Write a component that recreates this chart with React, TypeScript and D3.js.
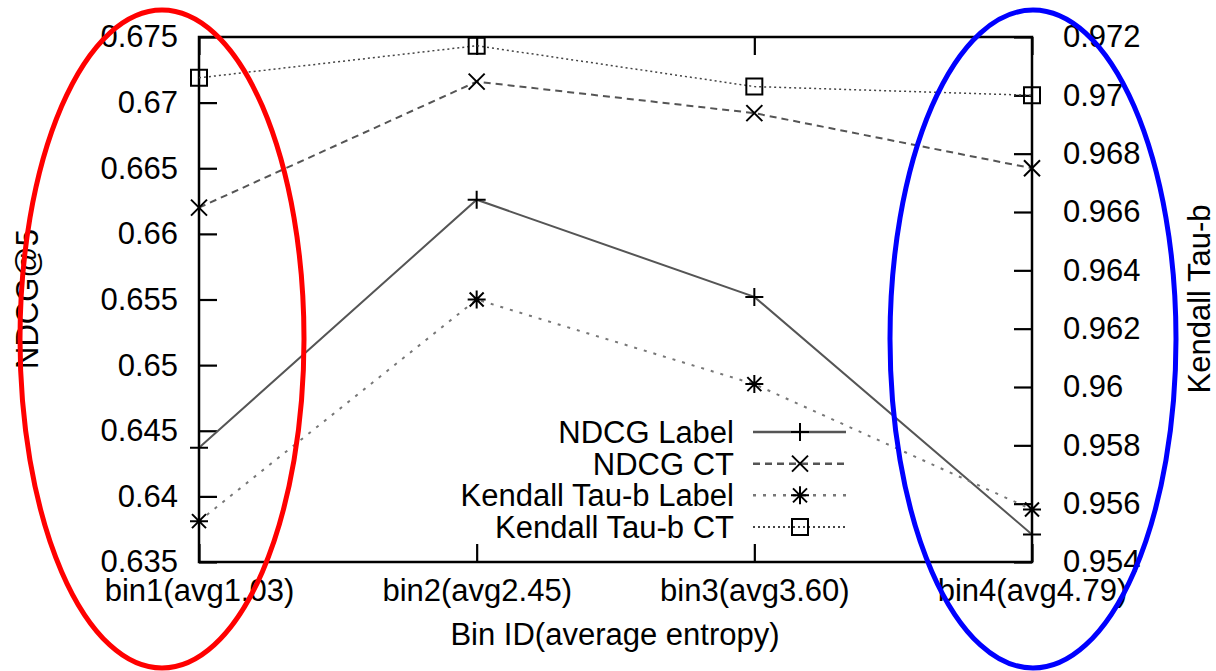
import React, { useRef, useEffect } from "react";
import * as d3 from "d3";

// bins along the x axis
const bins = ["bin1(avg1.03)", "bin2(avg2.45)", "bin3(avg3.60)", "bin4(avg4.79)"];

// NDCG series, left axis
const ndcgLabel = [0.6437, 0.6626, 0.6552, 0.6371];
const ndcgCT = [0.662, 0.6716, 0.6692, 0.665];

// Kendall series, right axis
const kendallLabel = [0.9554, 0.963, 0.9601, 0.9558];
const kendallCT = [0.9706, 0.9717, 0.9703, 0.97];

const leftTicks = [0.635, 0.64, 0.645, 0.65, 0.655, 0.66, 0.665, 0.67, 0.675];
const rightTicks = [0.954, 0.956, 0.958, 0.96, 0.962, 0.964, 0.966, 0.968, 0.97, 0.972];

const seriesNames = ["NDCG Label", "NDCG CT", "Kendall Tau-b Label", "Kendall Tau-b CT"];

const W = 1216;
const H = 671;
const FONT = "'Liberation Sans', Arial, Helvetica, sans-serif";

// marker shapes, gnuplot style
const markerPath = (kind: string) => {
  if (kind === "plus") return "M-9,0H9M0,-9V9";
  if (kind === "cross") return "M-8,-8L8,8M-8,8L8,-8";
  if (kind === "star") return "M-9,0H9M0,-9V9M-7,-7L7,7M-7,7L7,-7";
  return "M-8,-8H8V8H-8Z";
};

const App = () => {
  const svgRef = useRef<SVGSVGElement>(null);

  useEffect(() => {
    const svg = d3.select(svgRef.current);
    svg.selectAll("*").remove();

    const left = 199, right = 1032, top = 37, bottom = 562;

    const x = d3.scalePoint<string>().domain(bins).range([left, right]).padding(0);
    const yL = d3.scaleLinear().domain([0.635, 0.675]).range([bottom, top]);
    const yR = d3.scaleLinear().domain([0.954, 0.972]).range([bottom, top]);
    const fmt = d3.format("~g");

    const styleAxis = (g: any) => {
      g.select(".domain").remove();
      g.selectAll(".tick line").attr("stroke", "#000").attr("stroke-width", 2.2);
      g.selectAll(".tick text")
        .attr("fill", "#000")
        .style("font-family", FONT)
        .style("font-size", "31px");
    };

    // axes, ticks pointing inward
    svg.append("g")
      .attr("transform", `translate(${left},0)`)
      .call(d3.axisLeft(yL).tickValues(leftTicks).tickSize(-18).tickPadding(21).tickFormat(fmt as any))
      .call(styleAxis);

    svg.append("g")
      .attr("transform", `translate(${right},0)`)
      .call(d3.axisRight(yR).tickValues(rightTicks).tickSize(-18).tickPadding(31).tickFormat(fmt as any))
      .call(styleAxis);

    svg.append("g")
      .attr("transform", `translate(0,${bottom})`)
      .call(d3.axisBottom(x).tickSize(-18).tickPadding(17))
      .call(styleAxis);

    svg.append("g")
      .attr("transform", `translate(0,${top})`)
      .call(d3.axisTop(x).tickSize(-18).tickFormat(() => ""))
      .call(styleAxis);

    // frame
    svg.append("rect")
      .attr("x", left).attr("y", top)
      .attr("width", right - left).attr("height", bottom - top)
      .attr("fill", "none").attr("stroke", "#000").attr("stroke-width", 2.5);

    const series = [
      { name: seriesNames[0], values: ndcgLabel, y: yL, color: "#555", dash: null, marker: "plus", width: 2 },
      { name: seriesNames[1], values: ndcgCT, y: yL, color: "#555", dash: "7,5", marker: "cross", width: 2 },
      { name: seriesNames[2], values: kendallLabel, y: yR, color: "#777", dash: "3,7", marker: "star", width: 2 },
      { name: seriesNames[3], values: kendallCT, y: yR, color: "#444", dash: "2,3", marker: "square", width: 1.5 },
    ];

    series.forEach((s) => {
      const ln = d3.line<number>()
        .x((d, i) => x(bins[i]) as number)
        .y((d) => s.y(d));

      svg.append("path")
        .datum(s.values)
        .attr("d", ln)
        .attr("fill", "none")
        .attr("stroke", s.color)
        .attr("stroke-width", s.width)
        .attr("stroke-dasharray", s.dash);

      svg.selectAll(null)
        .data(s.values)
        .join("path")
        .attr("transform", (d, i) => `translate(${x(bins[i])},${s.y(d)})`)
        .attr("d", markerPath(s.marker))
        .attr("fill", "none")
        .attr("stroke", "#000")
        .attr("stroke-width", 2);
    });

    // legend
    const legend = svg.append("g");
    const rowY = d3.scaleLinear().domain([0, 3]).range([432, 527]);
    series.forEach((s, i) => {
      const yy = rowY(i);
      legend.append("text")
        .attr("x", 734).attr("y", yy).attr("dy", "0.36em")
        .attr("text-anchor", "end")
        .style("font-family", FONT).style("font-size", "31px")
        .text(s.name);
      legend.append("line")
        .attr("x1", 753).attr("x2", 846).attr("y1", yy).attr("y2", yy)
        .attr("stroke", s.color).attr("stroke-width", s.width + 0.5)
        .attr("stroke-dasharray", s.dash);
      legend.append("path")
        .attr("transform", `translate(800,${yy})`)
        .attr("d", markerPath(s.marker))
        .attr("fill", "none").attr("stroke", "#000").attr("stroke-width", 2);
    });

    // axis titles
    svg.append("text")
      .attr("transform", "translate(27,299) rotate(-90)")
      .attr("text-anchor", "middle").attr("dy", "0.35em")
      .style("font-family", FONT).style("font-size", "31px")
      .text("NDCG@5");

    svg.append("text")
      .attr("transform", "translate(1199,299) rotate(-90)")
      .attr("text-anchor", "middle").attr("dy", "0.35em")
      .style("font-family", FONT).style("font-size", "31px")
      .text("Kendall Tau-b");

    svg.append("text")
      .attr("x", 615).attr("y", 645)
      .attr("text-anchor", "middle")
      .style("font-family", FONT).style("font-size", "31px")
      .text("Bin ID(average entropy)");

    // highlight ellipses drawn over the chart
    svg.append("ellipse")
      .attr("cx", 162).attr("cy", 339).attr("rx", 142).attr("ry", 329)
      .attr("fill", "none").attr("stroke", "#ff0000").attr("stroke-width", 5);
    svg.append("ellipse")
      .attr("cx", 1033).attr("cy", 339).attr("rx", 143).attr("ry", 329)
      .attr("fill", "none").attr("stroke", "#0000ff").attr("stroke-width", 5);
  }, []);

  return (
    <svg
      ref={svgRef}
      width={W}
      height={H}
      style={{ position: "absolute", left: 0, top: 0, background: "#fff" }}
    />
  );
};

export default App;
